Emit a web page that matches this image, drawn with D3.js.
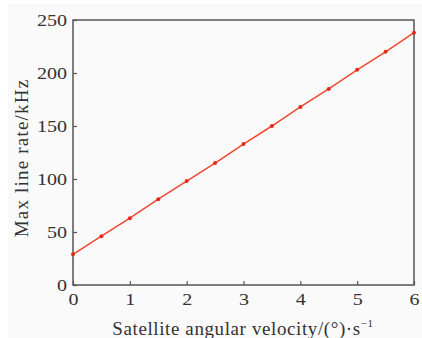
<!DOCTYPE html>
<html>
<head>
<meta charset="utf-8">
<script src="https://cdn.jsdelivr.net/npm/d3@7"></script>
<style>
  html, body { margin: 0; padding: 0; background: #fff; }
  svg { display: block; }
  .wide { transform-box: fill-box; transform-origin: 50% 50%; transform: scaleX(1.18); }
  .wide-r { transform-box: fill-box; transform-origin: 100% 50%; transform: scaleX(1.18); }
</style>
</head>
<body>
<script>
// Data
const velocity = [0, 0.5, 1, 1.5, 2, 2.5, 3, 3.5, 4, 4.5, 5, 5.5, 6]
const lineRate = [29, 46, 63, 81, 98, 115, 133, 150, 168, 185, 203, 220, 238]
const xTicks = [0, 1, 2, 3, 4, 5, 6]
const yTicks = [0, 50, 100, 150, 200, 250]

// Layout
const width = 422, height = 338
const margin = { top: 20, right: 8, bottom: 53, left: 73 }
const axisColor = "#555"
const lineColor = "#f0482e"
const font = "'Liberation Serif', 'DejaVu Serif', serif"

const svg = d3.select("body").append("svg")
  .attr("width", width)
  .attr("height", height)

svg.append("rect")
  .attr("x", 8).attr("y", 4)
  .attr("width", width - 8).attr("height", height - 4)
  .attr("fill", "#fafafa")

const x = d3.scaleLinear().domain([0, 6]).range([margin.left, width - margin.right])
const y = d3.scaleLinear().domain([0, 250]).range([height - margin.bottom, margin.top])

// Frame
svg.append("rect")
  .attr("x", x(0)).attr("y", y(250))
  .attr("width", x(6) - x(0)).attr("height", y(0) - y(250))
  .attr("fill", "none")
  .attr("stroke", axisColor)
  .attr("stroke-width", 1.5)

// X axis
svg.append("g")
  .attr("transform", `translate(0,${y(0)})`)
  .call(d3.axisBottom(x).tickValues(xTicks).tickFormat(d3.format("d")).tickSize(-4).tickPadding(8))
  .call(g => g.select(".domain").remove())
  .call(g => g.selectAll(".tick line").attr("stroke", axisColor).attr("stroke-width", 1.2))
  .selectAll("text")
  .attr("class", "wide")
  .attr("fill", "#333")
  .style("font-family", font)
  .style("font-size", "17px")

// Y axis
svg.append("g")
  .attr("transform", `translate(${x(0)},0)`)
  .call(d3.axisLeft(y).tickValues(yTicks).tickSize(-4).tickPadding(6))
  .call(g => g.select(".domain").remove())
  .call(g => g.selectAll(".tick line").attr("stroke", axisColor).attr("stroke-width", 1.2))
  .selectAll("text")
  .attr("class", "wide-r")
  .attr("fill", "#333")
  .style("font-family", font)
  .style("font-size", "17px")

// Series line
const D = velocity.map((v, i) => [v, lineRate[i]])
svg.append("path")
  .datum(D)
  .attr("d", d3.line().x(d => x(d[0])).y(d => y(d[1])))
  .attr("fill", "none")
  .attr("stroke", lineColor)
  .attr("stroke-width", 1.5)

// Series points
svg.append("g")
  .selectAll("circle")
  .data(D)
  .join("circle")
  .attr("cx", d => x(d[0]))
  .attr("cy", d => y(d[1]))
  .attr("r", 2)
  .attr("fill", "#e8261c")

// Axis titles
const xt = svg.append("text")
  .attr("x", 243)
  .attr("y", 335)
  .attr("text-anchor", "middle")
  .attr("fill", "#333")
  .style("font-family", font)
  .style("font-size", "19px")
  .style("letter-spacing", "0.6px")
xt.append("tspan").text("Satellite angular velocity/(°)·s")
xt.append("tspan").attr("dy", -8).style("font-size", "11px").text("−1")

svg.append("text")
  .attr("transform", `translate(28,158) rotate(-90)`)
  .attr("text-anchor", "middle")
  .attr("fill", "#333")
  .style("font-family", font)
  .style("font-size", "19px")
  .style("letter-spacing", "1.2px")
  .text("Max line rate/kHz")
</script>
</body>
</html>
